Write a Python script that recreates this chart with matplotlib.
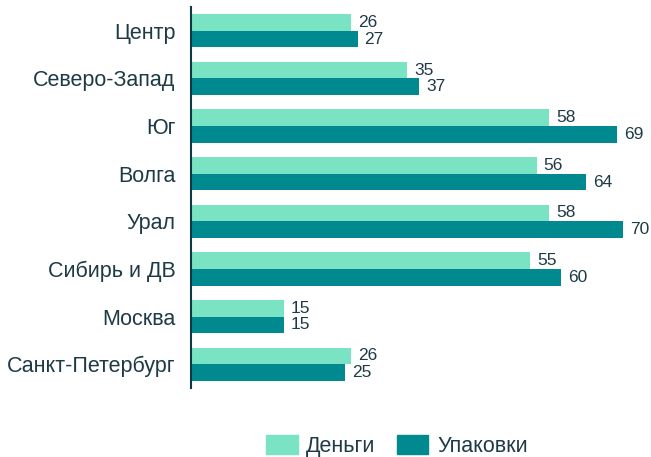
import matplotlib
matplotlib.use("Agg")
import matplotlib.pyplot as plt
import numpy as np
from matplotlib.patches import Patch

categories = ["Центр", "Северо-Запад", "Юг", "Волга", "Урал", "Сибирь и ДВ", "Москва", "Санкт-Петербург"]
money = [26, 35, 58, 56, 58, 55, 15, 26]
packs = [27, 37, 69, 64, 70, 60, 15, 25]
series_names = ["Деньги", "Упаковки"]

c_light = "#79E3C4"
c_dark = "#008A8F"
txt = "#1E3A46"

plt.rcParams['font.family'] = ['Liberation Sans', 'DejaVu Sans']

W, H = 651, 457
fig = plt.figure(figsize=(W/100, H/100), dpi=100)
left_px, right_px, top_px, bot_px = 191, 640, 7, 388
ax = fig.add_axes([left_px/W, 1 - bot_px/H, (right_px-left_px)/W, (bot_px-top_px)/H])

y = np.arange(len(categories))
h = 0.35
ax.barh(y - h/2, money, height=h, color=c_light)
ax.barh(y + h/2, packs, height=h, color=c_dark)
ax.set_ylim(len(categories) - 0.5, -0.5)
ax.set_xlim(0, (right_px-left_px)/6.17)

for yi, v in zip(y, money):
    ax.annotate(str(v), (v, yi - h/2), xytext=(5, 0), textcoords='offset points',
                va='center', ha='left', fontsize=12.5, color=txt)
for yi, v in zip(y, packs):
    ax.annotate(str(v), (v, yi + h/2), xytext=(5, 0), textcoords='offset points',
                va='center', ha='left', fontsize=12.5, color=txt)

ax.set_yticks(y)
ax.set_yticklabels(categories, fontsize=15.5, color=txt)
ax.tick_params(axis='y', length=0, pad=11)
ax.set_xticks([])
for s in ['top', 'right', 'bottom']:
    ax.spines[s].set_visible(False)
ax.spines['left'].set_color("#0E3A44")
ax.spines['left'].set_linewidth(1.5)

handles = [Patch(color=c_light), Patch(color=c_dark)]
fig.legend(handles, series_names, loc='center', bbox_to_anchor=(397/W, 1 - 446/H),
           ncol=2, frameon=False, fontsize=15.5, handlelength=1.45, handleheight=1.0,
           columnspacing=1.0, handletextpad=0.4, labelcolor=txt)

fig.savefig("out.png", dpi=100)
